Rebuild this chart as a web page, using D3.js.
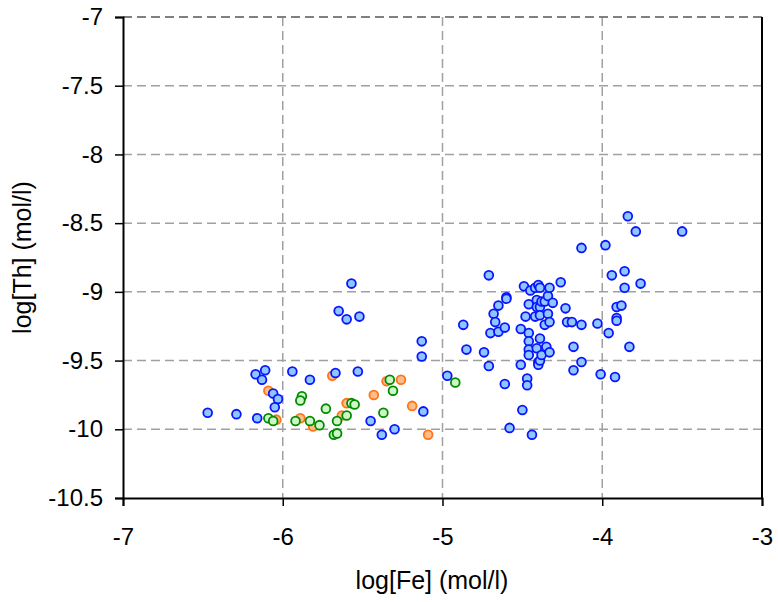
<!DOCTYPE html>
<html>
<head>
<meta charset="utf-8">
<script src="https://cdn.jsdelivr.net/npm/d3@7"></script>
<style>
  html, body { margin: 0; padding: 0; background: #fff; }
  svg { display: block; font-family: Arial, "Liberation Sans", sans-serif; }
</style>
</head>
<body>
<div id="chart"></div>
<script>
// log[Th] vs log[Fe] scatter - three sample groups

const xTicks = [-7, -6, -5, -4, -3];
const yTicks = [-7, -7.5, -8, -8.5, -9, -9.5, -10, -10.5];

// group 1 (blue)
const blueFe = [-6.47, -6.29, -6.16, -6.17, -6.11, -6.13, -6.06, -6.03, -6.05, -5.94,
  -5.83, -5.67, -5.53, -5.57, -5.65, -5.60, -5.52, -5.45, -5.38, -5.30,
  -5.13, -5.13, -5.12, -4.97, -4.87, -4.85, -4.74, -4.71, -4.71, -4.70,
  -4.68, -4.67, -4.65, -4.65, -4.61, -4.60, -4.60, -4.61, -4.58, -4.51,
  -4.51, -4.50, -4.49, -4.48, -4.47, -4.47, -4.46, -4.46, -4.46, -4.46,
  -4.46, -4.45, -4.44, -4.42, -4.42, -4.41, -4.41, -4.41, -4.40, -4.39,
  -4.40, -4.40, -4.39, -4.39, -4.39, -4.39, -4.38, -4.38, -4.36, -4.36,
  -4.35, -4.34, -4.34, -4.33, -4.33, -4.33, -4.31, -4.26, -4.23, -4.22,
  -4.19, -4.18, -4.18, -4.13, -4.13, -4.13, -4.03, -4.01, -3.98, -3.96,
  -3.94, -3.92, -3.91, -3.91, -3.91, -3.88, -3.86, -3.86, -3.84, -3.83,
  -3.79, -3.76, -3.50];
const blueTh = [-9.88, -9.89, -9.92, -9.60, -9.57, -9.64, -9.74, -9.78, -9.84, -9.58,
  -9.64, -9.59, -9.58, -8.94, -9.14, -9.20, -9.18, -9.94, -10.04, -10.00,
  -9.36, -9.47, -9.87, -9.61, -9.24, -9.42, -9.44, -8.88, -9.54, -9.30,
  -9.16, -9.22, -9.10, -9.29, -9.26, -9.04, -9.05, -9.67, -9.99, -9.27,
  -9.53, -9.86, -8.96, -9.18, -9.63, -9.68, -9.09, -9.30, -9.36, -9.42,
  -9.46, -8.99, -10.04, -8.97, -9.18, -9.06, -9.41, -9.11, -8.95, -8.97,
  -9.51, -9.53, -9.11, -9.17, -9.34, -9.50, -9.07, -9.46, -9.07, -9.24,
  -9.40, -9.03, -9.16, -8.97, -9.22, -9.44, -9.08, -8.93, -9.12, -9.22,
  -9.22, -9.57, -9.40, -8.68, -9.24, -9.51, -9.23, -9.60, -8.66, -9.30,
  -8.88, -9.62, -9.11, -9.19, -9.21, -9.10, -8.85, -8.97, -8.45, -9.40,
  -8.56, -8.94, -8.56];

// group 2 (orange)
const orangeFe = [-6.09, -6.04, -5.89, -5.81, -5.69, -5.60, -5.63, -5.43, -5.35, -5.26, -5.19, -5.09];
const orangeTh = [-9.72, -9.93, -9.92, -9.98, -9.61, -9.81, -9.90, -9.75, -9.65, -9.64, -9.83, -10.04];

// group 3 (green)
const greenFe = [-6.09, -6.06, -5.92, -5.88, -5.89, -5.83, -5.77, -5.73, -5.68, -5.66,
  -5.66, -5.60, -5.57, -5.55, -5.37, -5.33, -5.31, -4.92];
const greenTh = [-9.92, -9.94, -9.94, -9.76, -9.79, -9.94, -9.97, -9.85, -10.04, -10.03,
  -9.94, -9.90, -9.81, -9.82, -9.88, -9.64, -9.72, -9.66];

const groups = [
  { fe: orangeFe, th: orangeTh, stroke: '#ff7418', fill: '#ffbd8a' },
  { fe: greenFe, th: greenTh, stroke: '#008a00', fill: '#cdf7c6' },
  { fe: blueFe, th: blueTh, stroke: '#0a14ff', fill: '#8ec6ff' }
];

const width = 778, height = 602;
const margin = { top: 17, right: 16, bottom: 104, left: 123 };
const innerW = width - margin.left - margin.right;
const innerH = height - margin.top - margin.bottom;
const font = 'Arial, "Liberation Sans", sans-serif';

const svg = d3.select('#chart').append('svg')
  .attr('width', width)
  .attr('height', height);

const g = svg.append('g')
  .attr('transform', `translate(${margin.left},${margin.top})`);

const x = d3.scaleLinear().domain([-7, -3]).range([0, innerW]);
const y = d3.scaleLinear().domain([-10.5, -7]).range([innerH, 0]);

// dashed grid
g.append('g').selectAll('line')
  .data(xTicks.filter(d => d > -7 && d < -3))
  .join('line')
  .attr('x1', d => x(d)).attr('x2', d => x(d))
  .attr('y1', 0).attr('y2', innerH)
  .attr('stroke', '#a0a0a0').attr('stroke-width', 1.5)
  .attr('stroke-dasharray', '9,5');

g.append('g').selectAll('line')
  .data(yTicks.filter(d => d > -10.5))
  .join('line')
  .attr('x1', 0).attr('x2', innerW)
  .attr('y1', d => y(d)).attr('y2', d => y(d))
  .attr('stroke', d => d === -7 ? '#808080' : '#a0a0a0')
  .attr('stroke-width', d => d === -7 ? 2 : 1.5)
  .attr('stroke-dasharray', '9,5');

// right border
g.append('line')
  .attr('x1', innerW).attr('x2', innerW)
  .attr('y1', 0).attr('y2', innerH)
  .attr('stroke', '#000').attr('stroke-width', 2);

// points
groups.forEach(grp => {
  g.append('g').selectAll('circle')
    .data(grp.fe.map((v, i) => [v, grp.th[i]]))
    .join('circle')
    .attr('cx', d => x(d[0]))
    .attr('cy', d => y(d[1]))
    .attr('r', 4.4)
    .attr('fill', grp.fill)
    .attr('stroke', grp.stroke)
    .attr('stroke-width', 1.8);
});

// x axis
const xAxis = g.append('g').attr('transform', `translate(0,${innerH})`);
xAxis.call(d3.axisBottom(x).ticks(20).tickSize(5).tickFormat(''))
  .call(a => a.select('.domain').remove());
xAxis.call(d3.axisBottom(x).tickValues(xTicks).tickSize(8).tickPadding(22).tickFormat(d => d))
  .call(a => a.select('.domain').attr('stroke-width', 2));
xAxis.selectAll('line').attr('stroke-width', 1.5);
xAxis.selectAll('text').attr('font-size', 24).attr('fill', '#000')
  .attr('font-family', font);

// y axis
const yAxis = g.append('g');
yAxis.call(d3.axisLeft(y).ticks(35).tickSize(4).tickFormat(''))
  .call(a => a.select('.domain').remove());
yAxis.call(d3.axisLeft(y).tickValues(yTicks).tickSize(8).tickPadding(12).tickFormat(d => d))
  .call(a => a.select('.domain').attr('stroke-width', 2));
yAxis.selectAll('line').attr('stroke-width', 1.5);
yAxis.selectAll('text').attr('font-size', 24).attr('fill', '#000')
  .attr('font-family', font);

// axis titles
svg.append('text')
  .attr('x', 432)
  .attr('y', 589)
  .attr('text-anchor', 'middle')
  .attr('font-size', 25)
  .text('log[Fe] (mol/l)');

svg.append('text')
  .attr('transform', `translate(31,${margin.top + innerH / 2}) rotate(-90)`)
  .attr('text-anchor', 'middle')
  .attr('font-size', 25)
  .text('log[Th] (mol/l)');
</script>
</body>
</html>
